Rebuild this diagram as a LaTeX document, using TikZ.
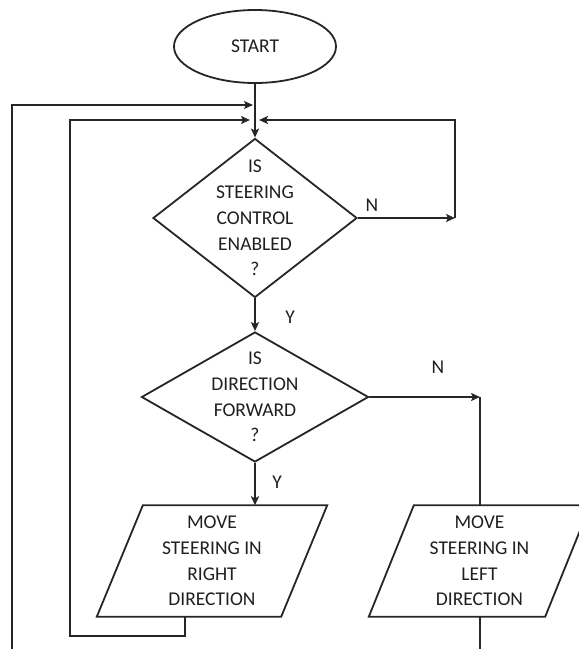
\documentclass[tikz,border=0pt]{standalone}
\usepackage{fontspec}
\setmainfont{Carlito}
\usetikzlibrary{shapes.geometric,arrows.meta}
\begin{document}
\begin{tikzpicture}[x=1pt,y=-1pt,
  ln/.style={draw=black!85, line width=1.8pt},
  arr/.style={-{Stealth[length=9pt,width=8pt,inset=2pt]}},
  txt/.style={font=\fontsize{19.5}{25.75}\selectfont, text=black!88, align=center, inner sep=0pt},
  decision/.style={diamond, ln, inner sep=0pt},
  io/.style={rectangle, txt, minimum height=111pt}
]
\useasboundingbox (0,0) rectangle (579,649);
\clip (0,0) rectangle (579,649);

% nodes
\node[ellipse, ln, minimum width=162pt, minimum height=73pt, txt] (start) at (255,46.5) {START};
\node[decision, minimum width=204pt, minimum height=159pt] (d1) at (255,218) {};
\node[txt] (t1) at (d1.center) {IS\\STEERING\\CONTROL\\ENABLED\\?};
\node[decision, minimum width=227pt, minimum height=130pt] (d2) at (255,397) {};
\node[txt] (t2) at (d2.center) {IS\\DIRECTION\\FORWARD\\?};
\node[io, minimum width=184pt] (p1) at (212,561) {MOVE\\STEERING IN\\RIGHT\\DIRECTION};
\node[io, minimum width=176pt] (p2) at (479.5,561) {MOVE\\STEERING IN\\LEFT\\DIRECTION};
\draw[ln] ([xshift=-23pt]p1.south west) -- ([xshift=-23pt]p1.south east)
  -- ([xshift=23pt]p1.north east) -- ([xshift=23pt]p1.north west) -- cycle;
\draw[ln] ([xshift=-22.5pt]p2.south west) -- ([xshift=-22.5pt]p2.south east)
  -- ([xshift=22.5pt]p2.north east) -- ([xshift=22.5pt]p2.north west) -- cycle;

% labels
\node[txt] (n1) at (372,205) {N};
\node[txt] (y1) at (290,317) {Y};
\node[txt] (n2) at (438,367) {N};
\node[txt] (y2) at (277,482) {Y};

% coordinates
\coordinate (m1) at (255,105);
\coordinate (m2) at (255,120);
\coordinate (c1) at (455,218);
\coordinate (c2) at (480,397);
\coordinate (o1) at (12,655);
\coordinate (o2) at (70,636);

% connectors
\draw[ln,arr] (start.south) -- (d1.north);
\draw[ln,arr] (o1) |- ([xshift=-2pt]m1);
\draw[ln,arr] ([xshift=-27pt]p1.south) |- (o2) |- ([xshift=-5pt]m2);
\draw[ln,arr] (d1.east) -- (c1);
\draw[ln,arr] (c1) |- ([xshift=4pt]m2);
\draw[ln,arr] (d1.south) -- (d2.north);
\draw[ln,arr] (d2.south) -- (d2.south |- p1.north);
\draw[ln,arr] (d2.east) -- (c2);
\draw[ln] (c2) -- (c2 |- p2.north);
\draw[ln] (c2 |- p2.south) -- (c2 |- o1);
\end{tikzpicture}
\end{document}
